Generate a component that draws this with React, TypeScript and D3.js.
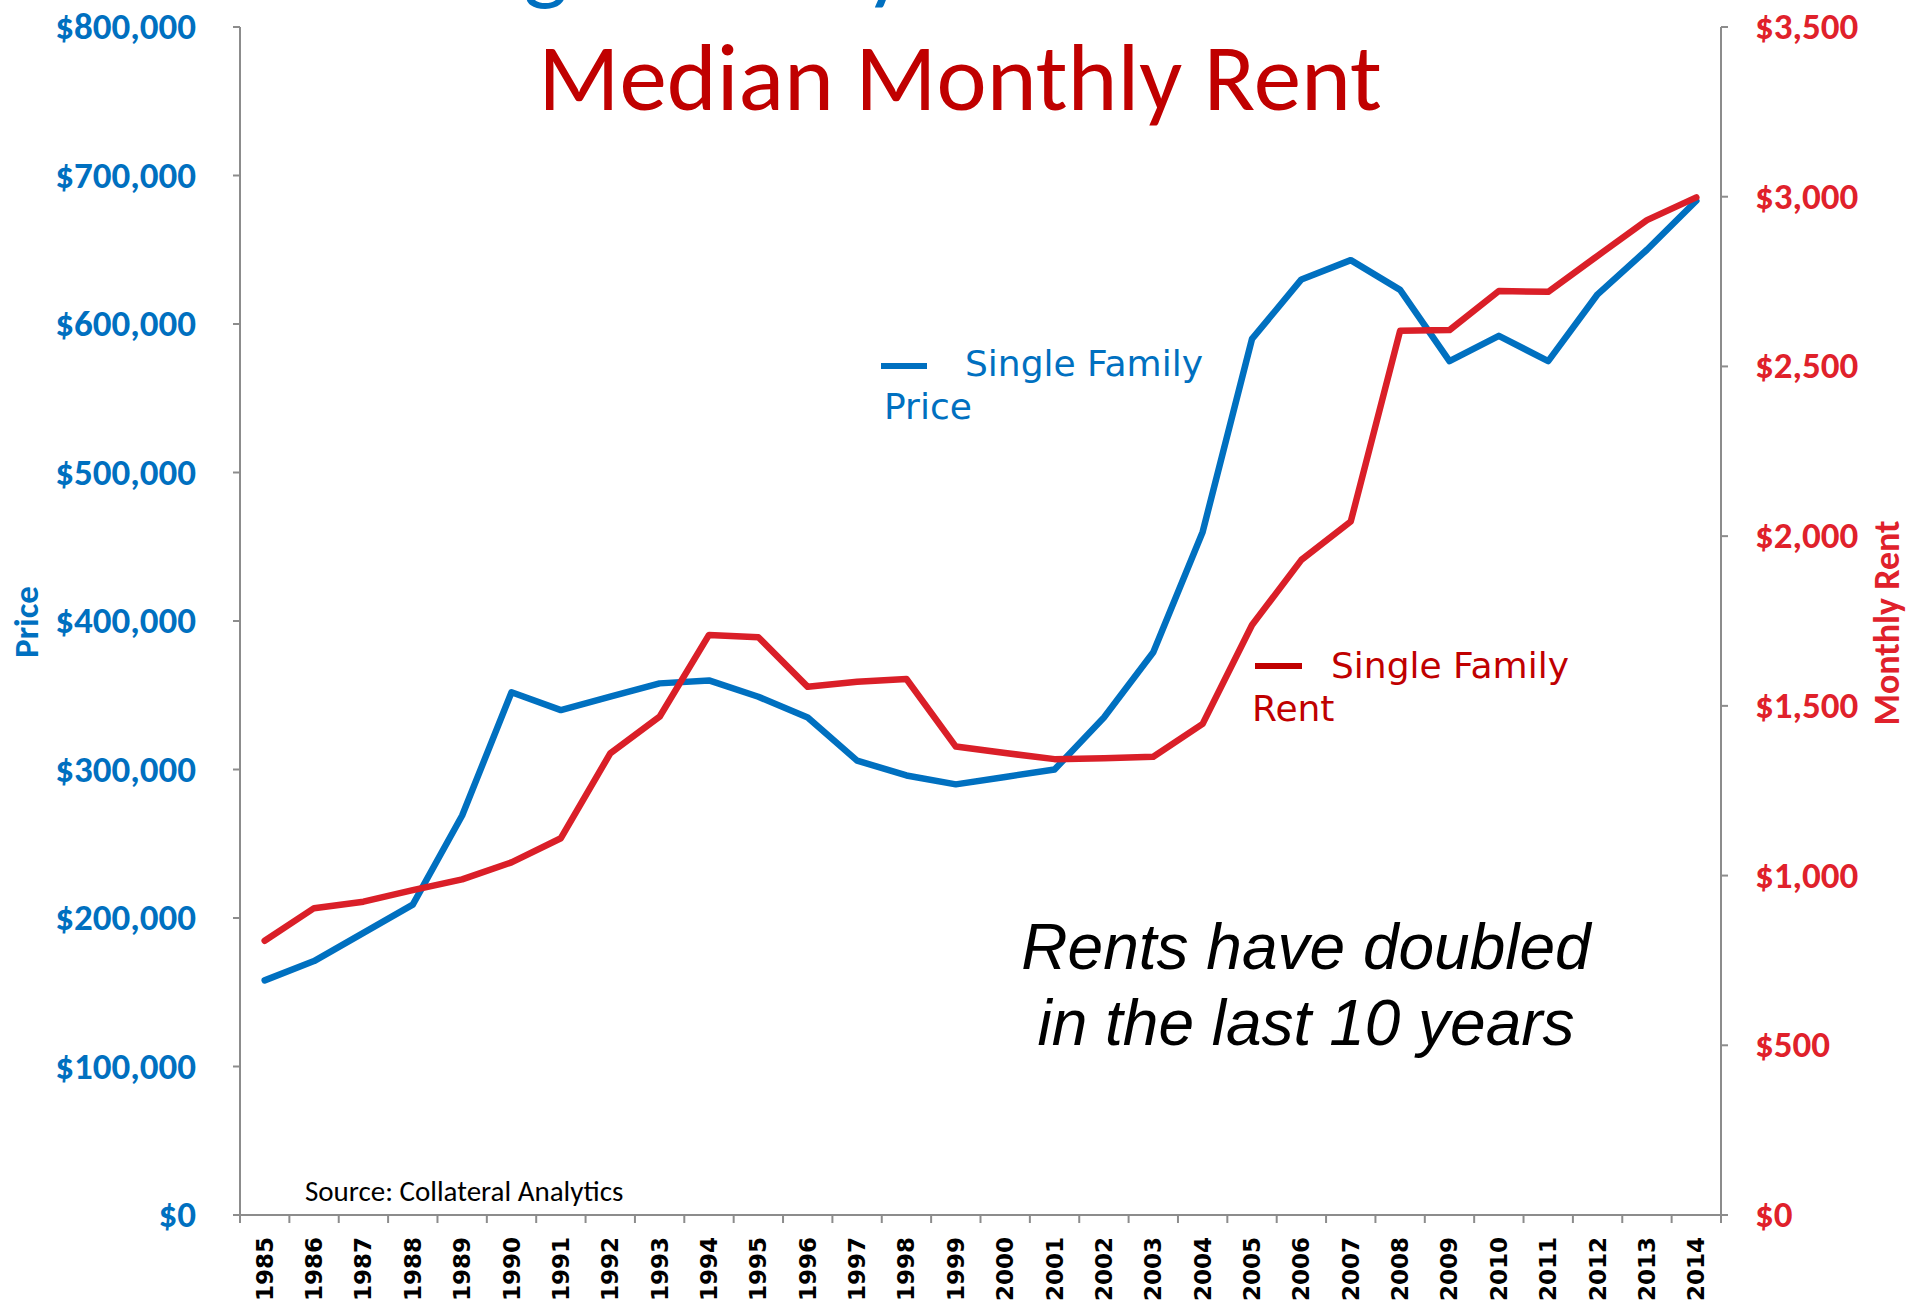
import React from "react";
import * as d3 from "d3";

const years = [1985,1986,1987,1988,1989,1990,1991,1992,1993,1994,1995,1996,1997,1998,1999,2000,2001,2002,2003,2004,2005,2006,2007,2008,2009,2010,2011,2012,2013,2014];
const priceValues = [158000,171000,190000,209000,269000,352000,340000,349000,358000,360000,349000,335000,306000,296000,290000,295000,300000,335000,379000,460000,590000,630000,643000,623000,575000,592000,575000,620000,650000,683000];
const rentValues = [808,904,923,957,989,1039,1110,1360,1468,1709,1702,1556,1571,1579,1380,1361,1343,1346,1350,1447,1738,1930,2043,2605,2607,2722,2720,2826,2931,2998];
const priceTicks = [0,100000,200000,300000,400000,500000,600000,700000,800000];
const rentTicks = [0,500,1000,1500,2000,2500,3000,3500];

const W = 1911, H = 1302;
const L = 240, R = 1721, TOP = 27, BOT = 1215;
const BLUE = "#0070C0";
const RED_LINE = "#DA1F28";
const RED_DARK = "#C00000";
const RED_TICK = "#E0212B";
const CAL = "Carlito, Calibri, 'Open Sans', sans-serif";
const LEG = "'DejaVu Sans', Verdana, sans-serif";

export default function App() {
  const x = d3.scaleBand<number>().domain(years).range([L, R]).padding(0);
  const yL = d3.scaleLinear().domain([0, 800000]).range([BOT, TOP]);
  const yR = d3.scaleLinear().domain([0, 3500]).range([BOT, TOP]);
  const cx = (yr: number) => (x(yr) as number) + x.bandwidth() / 2;
  const fmtP = (v: number) => "$" + d3.format(",")(v);

  const priceLine = d3.line<number>().x((_, i) => cx(years[i])).y((d) => yL(d))(priceValues) as string;
  const rentLine = d3.line<number>().x((_, i) => cx(years[i])).y((d) => yR(d))(rentValues) as string;

  const boundaries = years.map((yr) => x(yr) as number).concat([R]);

  return (
    <svg width={W} height={H} style={{ position: "absolute", left: 0, top: 0, background: "#fff" }}>
      <rect x={0} y={0} width={W} height={H} fill="#fff" />
      {/* first title line, cut off at the top edge as in the reference */}
      <text x={408} y={-8} fontFamily={CAL} fontSize={95} fill={BLUE}>Single Family Home Prices vs.</text>
      <text x={960} y={110} textAnchor="middle" fontFamily={CAL} fontSize={95} fill={RED_DARK}>Median Monthly Rent</text>

      {/* axes */}
      <g stroke="#8c8c8c" strokeWidth={2} fill="none">
        <line x1={L} y1={TOP} x2={L} y2={BOT} />
        <line x1={R} y1={TOP} x2={R} y2={BOT} />
        <line x1={L - 7} y1={BOT} x2={R + 7} y2={BOT} />
        {priceTicks.map((t) => (
          <line key={"pl" + t} x1={L - 7} x2={L} y1={yL(t)} y2={yL(t)} />
        ))}
        {rentTicks.map((t) => (
          <line key={"rl" + t} x1={R} x2={R + 7} y1={yR(t)} y2={yR(t)} />
        ))}
        {boundaries.map((b, i) => (
          <line key={"xb" + i} x1={b} x2={b} y1={BOT} y2={BOT + 8} />
        ))}
      </g>

      {priceTicks.map((t) => (
        <text key={"pt" + t} x={196} y={yL(t) + 12} textAnchor="end" fontFamily={CAL} fontWeight="bold" fontSize={37} fill={BLUE}>{fmtP(t)}</text>
      ))}
      {rentTicks.map((t) => (
        <text key={"rt" + t} x={1755} y={yR(t) + 12} textAnchor="start" fontFamily={CAL} fontWeight="bold" fontSize={37} fill={RED_TICK}>{fmtP(t)}</text>
      ))}
      {years.map((yr) => (
        <text key={"yt" + yr} transform={`translate(${cx(yr) + 8},${BOT + 22}) rotate(-90)`} textAnchor="end" fontFamily={LEG} fontWeight="bold" fontSize={23} fill="#000">{yr}</text>
      ))}

      <text transform="translate(38,622) rotate(-90)" textAnchor="middle" fontFamily={CAL} fontWeight="bold" fontSize={35} fill={BLUE}>Price</text>
      <text transform="translate(1899,623) rotate(-90)" textAnchor="middle" fontFamily={CAL} fontWeight="bold" fontSize={36} fill={RED_TICK}>Monthly Rent</text>

      <path d={priceLine} fill="none" stroke={BLUE} strokeWidth={6.5} strokeLinejoin="round" strokeLinecap="round" />
      <path d={rentLine} fill="none" stroke={RED_LINE} strokeWidth={6.5} strokeLinejoin="round" strokeLinecap="round" />

      {/* legends */}
      <line x1={881} x2={927} y1={366} y2={366} stroke={BLUE} strokeWidth={6} />
      <text x={965} y={376} fontFamily={LEG} fontSize={36} fill={BLUE}>Single Family</text>
      <text x={884} y={419} fontFamily={LEG} fontSize={36} fill={BLUE}>Price</text>

      <line x1={1255} x2={1302} y1={666} y2={666} stroke={RED_DARK} strokeWidth={6} />
      <text x={1331} y={678} fontFamily={LEG} fontSize={36} fill={RED_DARK}>Single Family</text>
      <text x={1252} y={721} fontFamily={LEG} fontSize={36} fill={RED_DARK}>Rent</text>

      <text x={1306} y={969} textAnchor="middle" fontFamily="'Liberation Sans', Arial, sans-serif" fontStyle="italic" fontSize={64} fill="#000">Rents have doubled</text>
      <text x={1306} y={1045} textAnchor="middle" fontFamily="'Liberation Sans', Arial, sans-serif" fontStyle="italic" fontSize={64} fill="#000">in the last 10 years</text>

      <text x={305} y={1201} fontFamily={CAL} fontSize={29} fill="#000">Source: Collateral Analytics</text>
    </svg>
  );
}
